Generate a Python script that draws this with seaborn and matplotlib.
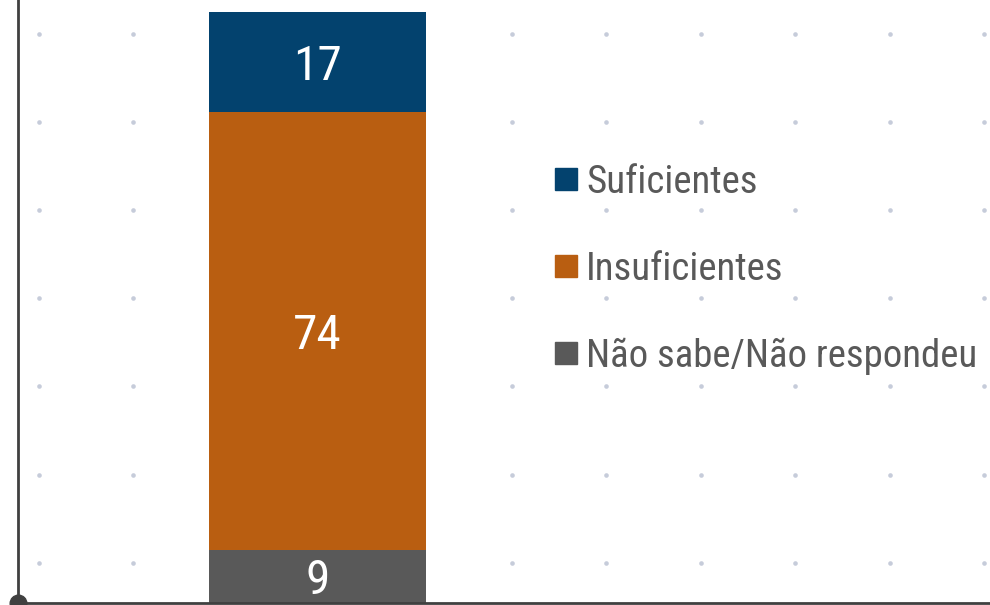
import numpy as np
import pandas as pd
import seaborn as sns
import matplotlib.pyplot as plt
from matplotlib.lines import Line2D

categories = ['Não sabe/Não respondeu', 'Insuficientes', 'Suficientes']
values = [9, 74, 17]
colors = ['#595959', '#B95E11', '#03426E']
legend_order = ['Suficientes', 'Insuficientes', 'Não sabe/Não respondeu']

sns.set_theme(style='white')
plt.rcParams['font.family'] = ['Roboto Condensed', 'Archivo Narrow', 'DejaVu Sans']

fig = plt.figure(figsize=(9.9, 6.05), dpi=100)
ax = fig.add_axes([18 / 990, 2 / 605, 972 / 990, 603 / 605])

tops = np.cumsum(values)
bottoms = tops - np.array(values)

# dotted background grid
gx = np.linspace(-0.770, 1.843, 11)
gy = np.linspace(6.8, 96.3, 7)
GX, GY = np.meshgrid(gx, gy)
ax.scatter(GX.ravel(), GY.ravel(), s=11, color='#c6ccda', zorder=0, linewidths=0)

# stacked bar: draw the cumulative totals from tallest to shortest
df = pd.DataFrame({'grp': ['all'] * 3, 'top': tops, 'cat': categories})
for i in range(len(categories) - 1, -1, -1):
    sns.barplot(data=df.iloc[[i]], x='grp', y='top', color=colors[i],
                width=0.6, saturation=1, linewidth=0, ax=ax, zorder=2)

for b, v in zip(bottoms, values):
    ax.annotate(str(v), (0, b + v / 2), xytext=(0, -12.6),
                textcoords='offset points', ha='center', va='baseline',
                color='white', fontsize=35.5, zorder=3)

ax.set_xlim(-0.8277, 1.859)
ax.set_ylim(0, 102.0)
ax.set_xlabel('')
ax.set_ylabel('')
ax.set_xticks([])
ax.set_yticks([])
for s in ['top', 'right']:
    ax.spines[s].set_visible(False)
for s in ['left', 'bottom']:
    ax.spines[s].set_color('#404040')
    ax.spines[s].set_linewidth(2)
ax.plot([0], [0], 'o', color='#404040', markersize=12, transform=ax.transAxes,
        clip_on=False, zorder=5)

handles = [Line2D([], [], marker='s', linestyle='none', markersize=16,
                  color=colors[categories.index(c)]) for c in legend_order]
leg = fig.legend(handles, legend_order, loc='upper left',
                 bbox_to_anchor=(547 / 990, 1 - 164 / 605), frameon=False,
                 fontsize=28, labelspacing=1.28, handletextpad=0.0,
                 handlelength=1.0, borderaxespad=0, borderpad=0)
for t in leg.get_texts():
    t.set_color('#595959')

fig.savefig('out.png', dpi=100)
